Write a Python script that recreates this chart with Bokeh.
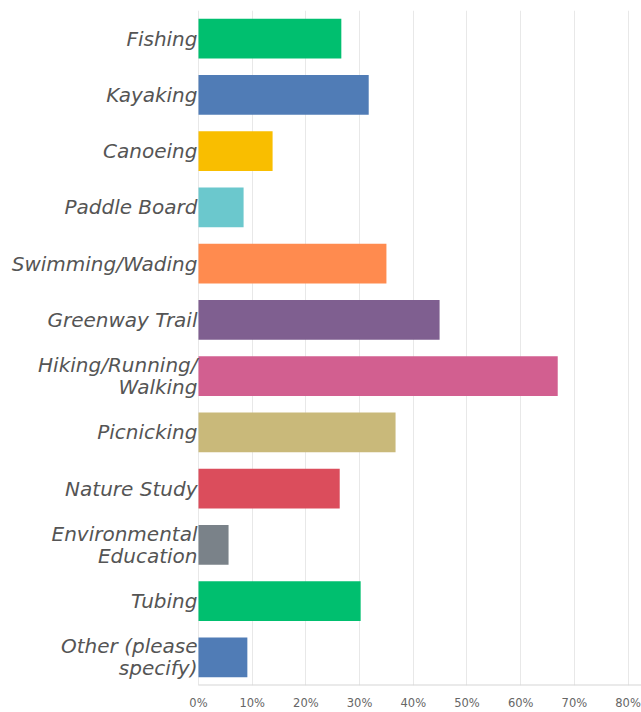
from bokeh.plotting import figure
from bokeh.models import FixedTicker, NumeralTickFormatter, ColumnDataSource
from bokeh.core.properties import value
from bokeh.embed import file_html
from bokeh.resources import INLINE

categories = ["Fishing", "Kayaking", "Canoeing", "Paddle Board", "Swimming/Wading",
              "Greenway Trail", "Hiking/Running/Walking", "Picnicking", "Nature Study",
              "Environmental Education", "Tubing", "Other (please specify)"]
label_text = ["Fishing", "Kayaking", "Canoeing", "Paddle Board", "Swimming/Wading",
              "Greenway Trail", "Hiking/Running/\nWalking", "Picnicking", "Nature Study",
              "Environmental\nEducation", "Tubing", "Other (please\nspecify)"]
values = [0.266, 0.317, 0.138, 0.084, 0.350, 0.449, 0.669, 0.367, 0.263, 0.056, 0.302, 0.091]
colors = ["#00BF6F", "#507CB6", "#F9BE00", "#6BC8CD", "#FF8B4F", "#7F5F90",
          "#D25F90", "#C9B97A", "#DB4D5C", "#7A8289", "#00BF6F", "#507CB6"]
tick_values = [0, 0.1, 0.2, 0.3, 0.4, 0.5, 0.6, 0.7, 0.8]

n = len(categories)
ypos = [n - 1 - i for i in range(n)]
src = ColumnDataSource(dict(cat=categories, y=ypos, val=values, color=colors,
                            label=label_text, zero=[0] * n))

p = figure(width=641, height=712, output_backend="svg", toolbar_location=None,
           x_range=(-0.3687, 0.825), y_range=(-0.5, n - 0.5),
           y_axis_location=None,
           min_border_top=10, min_border_right=0, min_border_left=0,
           min_border_bottom=0)

p.hbar(y="y", right="val", left=0, height=0.71, color="color", source=src,
       line_color=None)

p.text(x="zero", y="y", text="label", source=src, x_offset=-1,
       text_align="right", text_baseline="middle",
       text_font=value("DejaVu Sans"), text_font_style="italic",
       text_font_size="20px", text_color="#555555", text_line_height=0.92)

p.segment(x0=[0], x1=[0.825], y0=[-0.5], y1=[-0.5], line_color="#d6d6d6",
          line_width=2)

p.outline_line_color = None
p.background_fill_color = "white"

p.ygrid.grid_line_color = None
p.xgrid.grid_line_color = "#e8e8e8"
p.xgrid.ticker = FixedTicker(ticks=tick_values)

xa = p.xaxis[0]
xa.ticker = FixedTicker(ticks=tick_values)
xa.formatter = NumeralTickFormatter(format="0%")
xa.axis_line_color = None
xa.major_tick_line_color = None
xa.minor_tick_line_color = None
xa.major_tick_out = 0
xa.major_tick_in = 0
xa.major_label_text_color = "#666666"
xa.major_label_text_font = "DejaVu Sans"
xa.major_label_text_font_size = "11.5px"
xa.major_label_standoff = 10

open("out.html", "w").write(file_html(p, INLINE))
